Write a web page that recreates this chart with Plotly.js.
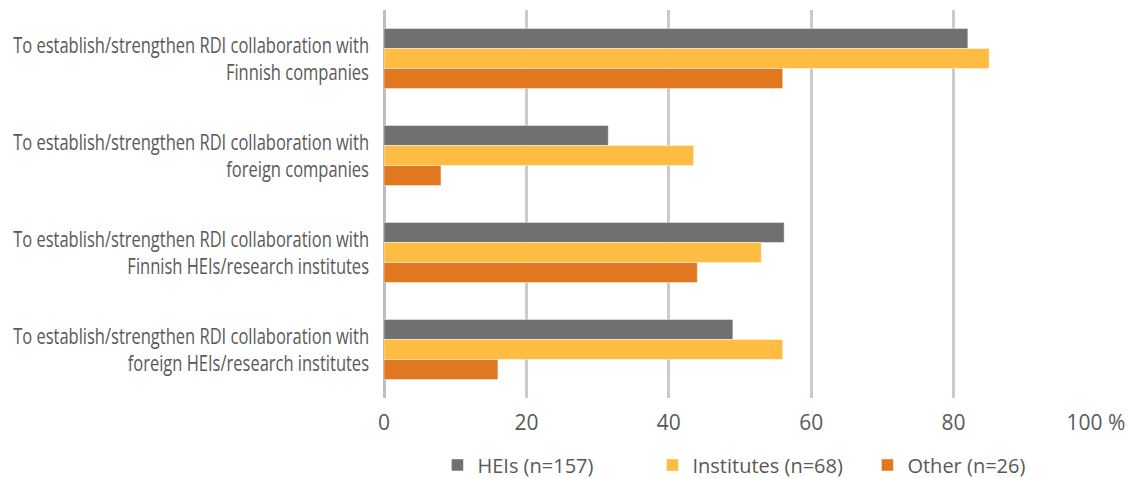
<!DOCTYPE html>
<html>
<head>
<meta charset="utf-8">
<script src="https://cdn.plot.ly/plotly-3.0.1.min.js"></script>
<style>
  html, body { margin: 0; padding: 0; background: #fff; }
  #chart { width: 1137px; height: 479px; }
</style>
</head>
<body>
<div id="chart"></div>
<script>
// Aims of RDI collaboration, share of respondents (%) by organisation type
const categories = [
  'To establish/strengthen RDI collaboration with<br>Finnish companies',
  'To establish/strengthen RDI collaboration with<br>foreign companies',
  'To establish/strengthen RDI collaboration with<br>Finnish HEIs/research institutes',
  'To establish/strengthen RDI collaboration with<br>foreign HEIs/research institutes'
];
const seriesNames = ['HEIs (n=157)', 'Institutes (n=68)', 'Other (n=26)'];
const heis = [82, 31.5, 56.2, 49];
const institutes = [85, 43.5, 53, 56];
const other = [56, 8, 44, 16];
const tickValues = [0, 20, 40, 60, 80, 100];
const tickLabels = ['0', '20', '40', '60', '80', '100 %'];

const colors = ['#707070', '#FFBC42', '#E1781F'];
const values = [heis, institutes, other];

const traces = values.map((v, i) => ({
  type: 'bar',
  orientation: 'h',
  name: seriesNames[i],
  x: v,
  y: categories,
  marker: { color: colors[i], line: { color: 'rgba(255,255,255,0.45)', width: 1 } },
  hoverinfo: 'x+name'
}));

const layout = {
  width: 1137,
  height: 479,
  margin: { l: 384, r: 41, t: 10, b: 81 },
  paper_bgcolor: '#fff',
  plot_bgcolor: '#fff',
  barmode: 'group',
  bargap: 0.38,
  bargroupgap: 0,
  showlegend: true,
  legend: {
    orientation: 'h',
    x: 0.528, xanchor: 'center',
    xref: 'paper',
    y: 0.07, yanchor: 'top',
    yref: 'container',
    entrywidth: 170,
    font: { family: 'Open Sans, sans-serif', size: 20, color: '#595959' },
    traceorder: 'normal'
  },
  xaxis: {
    range: [0, 100],
    tickvals: tickValues,
    ticktext: tickLabels,
    showgrid: true,
    gridcolor: '#CBCBCB',
    gridwidth: 3,
    zeroline: true,
    zerolinecolor: '#BFBFBF',
    zerolinewidth: 3,
    showline: false,
    ticks: '',
    ticklabelstandoff: 10,
    tickfont: { family: 'Open Sans, sans-serif', size: 21, color: '#595959' },
    fixedrange: true
  },
  yaxis: {
    autorange: 'reversed',
    showgrid: false,
    zeroline: false,
    showline: false,
    ticks: '',
    ticklabelstandoff: 14,
    tickfont: { family: 'Open Sans, sans-serif', size: 21, color: '#595959' },
    fixedrange: true
  }
};

// Category labels are set in a narrow face: squeeze each label horizontally
// about its right edge so the widest line fits the label column.
function condenseCategoryLabels(gd, targetWidth) {
  const labels = Array.from(gd.querySelectorAll('.ytick text'));
  if (!labels.length) return;
  const widest = Math.max(...labels.map(t => t.getBBox().width));
  const s = Math.min(1, targetWidth / widest);
  labels.forEach(t => {
    const b = t.getBBox();
    const xr = b.x + b.width;
    const t0 = t.getAttribute('transform') || '';
    t.setAttribute('transform',
      (t0 + ' translate(' + xr + ',1) scale(' + s + ',1) translate(' + (-xr) + ',0)').trim());
  });
}

const gd = document.getElementById('chart');
Plotly.newPlot(gd, traces, layout, { displayModeBar: false, staticPlot: true })
  .then(() => condenseCategoryLabels(gd, 356));
</script>
</body>
</html>
